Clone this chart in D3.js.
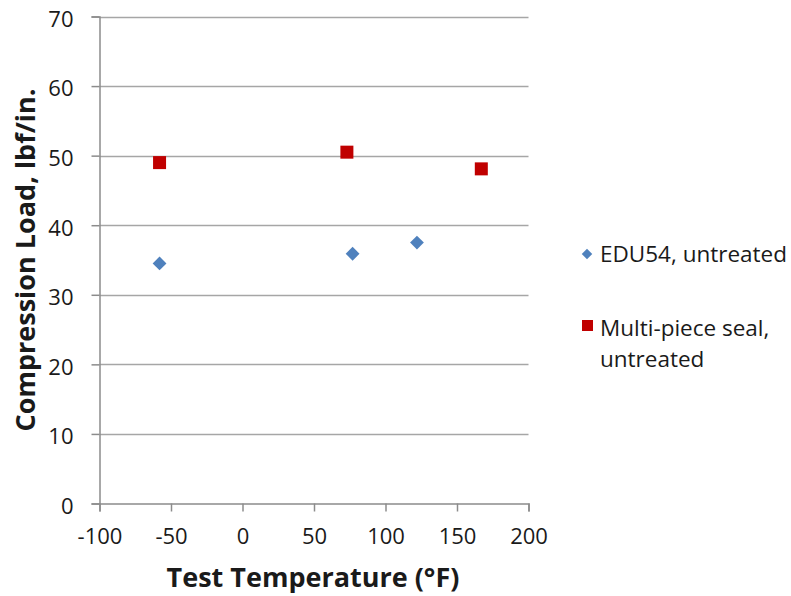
<!DOCTYPE html>
<html><head><meta charset="utf-8">
<script src="https://cdn.jsdelivr.net/npm/d3@7"></script>
<style>body{margin:0;background:#fff}svg{display:block}text{font-family:"Open Sans",sans-serif;fill:#1a1a1a}</style>
</head><body>
<svg id="c" width="791" height="596"></svg>
<script>
const xTicks = [-100,-50,0,50,100,150,200];
const yTicks = [0,10,20,30,40,50,60,70];
const eduX = [-58, 77, 122];
const eduY = [34.5, 35.9, 37.5];
const mpsX = [-58, 73, 167];
const mpsY = [49.0, 50.5, 48.1];
const seriesNames = ["EDU54, untreated", "Multi-piece seal, untreated"];

const svg = d3.select("#c");
const L = 99.5, R = 528.5, T = 16.5, B = 503.5;
const x = d3.scaleLinear().domain([-100,200]).range([L,R]);
const y = d3.scaleLinear().domain([0,70]).range([B,T]);
const fmt = d => String(d);

// gridlines
svg.append("g").selectAll("line").data(yTicks.filter(d=>d>0)).join("line")
  .attr("x1",L).attr("x2",R).attr("y1",d=>Math.round(y(d))+0.5).attr("y2",d=>Math.round(y(d))+0.5)
  .attr("stroke","#a6a6a6").attr("stroke-width",1.5);

// y axis
const ya = svg.append("g").attr("transform",`translate(${L},0)`)
  .call(d3.axisLeft(y).tickValues(yTicks).tickSize(8).tickPadding(18).tickFormat(fmt));
ya.select(".domain").attr("stroke","#8c8c8c").attr("stroke-width",1.5);
ya.selectAll(".tick line").attr("stroke","#8c8c8c").attr("stroke-width",1.5);
ya.selectAll("text").style("font-size","22px").attr("dy","0.45em").attr("fill","#1a1a1a");

// x axis
const xa = svg.append("g").attr("transform",`translate(0,${B})`)
  .call(d3.axisBottom(x).tickValues(xTicks).tickSize(8).tickPadding(17).tickFormat(fmt));
xa.select(".domain").attr("stroke","#8c8c8c").attr("stroke-width",1.5);
xa.selectAll(".tick line").attr("stroke","#8c8c8c").attr("stroke-width",1.5);
xa.selectAll("text").style("font-size","22px").attr("fill","#1a1a1a");

// axis titles
svg.append("text").attr("x",313).attr("y",587).attr("text-anchor","middle")
  .style("font-size","27px").style("font-weight","bold").text("Test Temperature (°F)");
svg.append("text").attr("transform","translate(35,260) rotate(-90)").attr("text-anchor","middle")
  .style("font-size","27px").style("font-weight","bold").text("Compression Load, lbf/in.");

// markers
svg.append("g").selectAll("path").data(eduX.map((v,i)=>[v,eduY[i]])).join("path")
  .attr("d",d3.symbol().type(d3.symbolSquare).size(95))
  .attr("transform",d=>`translate(${x(d[0])},${y(d[1])}) rotate(45)`)
  .attr("fill","#4f81bd");
svg.append("g").selectAll("rect").data(mpsX.map((v,i)=>[v,mpsY[i]])).join("rect")
  .attr("x",d=>x(d[0])-6.5).attr("y",d=>y(d[1])-6.5).attr("width",13).attr("height",13)
  .attr("fill","#c00000");

// legend
const lg = svg.append("g");
lg.append("path").attr("d",d3.symbol().type(d3.symbolSquare).size(55)())
  .attr("transform","translate(587,254) rotate(45)").attr("fill","#4f81bd");
lg.append("text").attr("x",600).attr("y",262).style("font-size","22.5px").text(seriesNames[0]);
lg.append("rect").attr("x",582).attr("y",320).attr("width",11).attr("height",11).attr("fill","#c00000");
const t2 = lg.append("text").attr("x",600).attr("y",336).style("font-size","22.5px");
t2.append("tspan").attr("x",600).text("Multi-piece seal,");
t2.append("tspan").attr("x",600).attr("dy",31).text("untreated");
</script>
</body></html>
